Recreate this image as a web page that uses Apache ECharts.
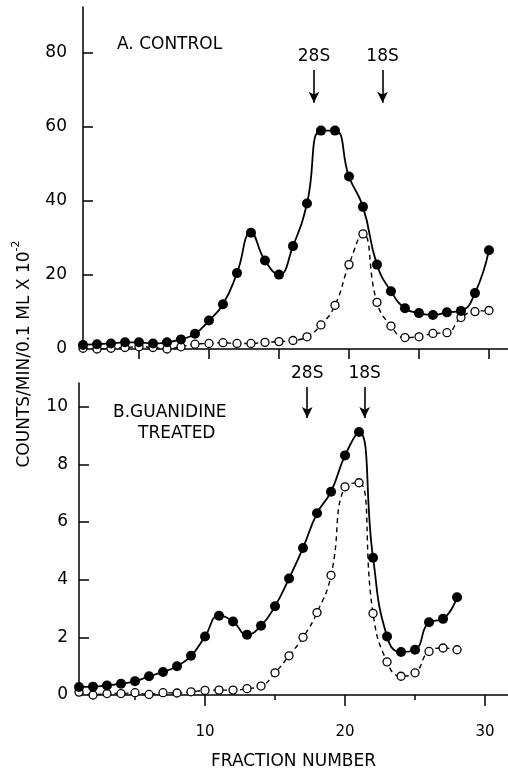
<!DOCTYPE html>
<html><head><meta charset="utf-8">
<script src="https://cdn.jsdelivr.net/npm/echarts@6/dist/echarts.min.js"></script>
<style>html,body{margin:0;padding:0;background:#fff}#c{width:508px;height:771px}</style>
</head><body><div id="c"></div>
<script>
// Panel A: control
const fractionsA = [1,2,3,4,5,6,7,8,9,10,11,12,13,14,15,16,17,18,19,20,21,22,23,24,25,26,27,28,29,30];
const controlFilled = [1.1,1.3,1.5,1.8,1.8,1.5,1.8,2.6,4.1,7.7,12.1,20.5,31.4,23.9,20.1,27.8,39.3,59.0,59.0,46.6,38.4,22.8,15.6,11.0,9.7,9.2,9.9,10.3,15.1,26.7];
const controlOpen = [0.2,0.0,0.2,0.4,0.6,0.4,0.0,0.6,1.3,1.5,1.7,1.5,1.5,1.8,2.0,2.3,3.3,6.5,11.8,22.8,31.1,12.6,6.2,3.1,3.3,4.2,4.4,8.5,10.1,10.4];
// Panel B: guanidine treated
const fractionsB = [1,2,3,4,5,6,7,8,9,10,11,12,13,14,15,16,17,18,19,20,21,22,23,24,25,26,27,28];
const guanFilled = [0.28,0.29,0.33,0.39,0.48,0.65,0.80,1.0,1.36,2.03,2.75,2.55,2.09,2.40,3.08,4.04,5.10,6.30,7.05,8.31,9.12,4.76,2.03,1.49,1.57,2.52,2.64,3.39];
const guanOpen = [0.10,0.0,0.05,0.05,0.08,0.02,0.08,0.07,0.11,0.16,0.17,0.17,0.22,0.31,0.77,1.36,2.0,2.86,4.15,7.22,7.36,2.83,1.15,0.65,0.77,1.51,1.63,1.57];
// Ticks
const yLabelsA = [0,20,40,60,80];
const yTicksA = [20,40,60,80];
const yLabelsB = [0,2,4,6,8,10];
const yTicksB = [2,4,6,8,10];
const xTicksA = [5,10,15,20,25,30];
const xLabelsB = [10,20,30];
const xMinorB = [5,15,25];
// Sedimentation markers (fraction positions)
const markersA = [{name:'28S', x:17.5}, {name:'18S', x:22.4}];
const markersB = [{name:'28S', x:17.3}, {name:'18S', x:21.4}];

const FONT = 'DejaVu Sans';
const pairs = (xs, ys) => xs.map((x, i) => [x, ys[i]]);

function filledSeries(xi, yi, data, marks, yTop, yBot) {
  return {
    type: 'line', xAxisIndex: xi, yAxisIndex: yi, data: data,
    smooth: 0.5, symbol: 'circle', symbolSize: 10, z: 3,
    itemStyle: {color: '#000'},
    lineStyle: {color: '#000', width: 1.8},
    markLine: {
      silent: true, animation: false,
      symbol: ['none', 'arrow'], symbolSize: [8, 11],
      lineStyle: {color: '#000', width: 1.6, type: 'solid'},
      label: {show: true, position: 'start', distance: 5, formatter: p => p.name,
              color: '#000', fontFamily: FONT, fontSize: 17},
      data: marks.map(m => [{name: m.name, coord: [m.x, yTop]}, {coord: [m.x, yBot]}])
    }
  };
}
function openSeries(xi, yi, data) {
  return {
    type: 'line', xAxisIndex: xi, yAxisIndex: yi, data: data,
    smooth: 0.5, symbol: 'circle', symbolSize: 8, z: 2,
    itemStyle: {color: '#fff', borderColor: '#000', borderWidth: 1.3},
    lineStyle: {color: '#000', width: 1.4, type: [5, 4]}
  };
}
const axisLine = {show: true, lineStyle: {color: '#000', width: 1.5}};

const chart = echarts.init(document.getElementById('c'), null, {renderer: 'canvas'});
chart.setOption({
  animation: false,
  backgroundColor: '#fff',
  grid: [
    {left: 83, right: 0, top: 7, bottom: 422},
    {left: 79, right: 0, top: 383, bottom: 72}
  ],
  xAxis: [
    {gridIndex: 0, type: 'value', position: 'bottom', offset: 0, min: 1, max: 31.36, axisLine: axisLine,
     axisTick: {show: true, customValues: xTicksA, length: 10, lineStyle: {color: '#000', width: 1.5}},
     axisLabel: {show: false}, splitLine: {show: false}},
    {gridIndex: 1, type: 'value', position: 'bottom', offset: 0, min: 1, max: 31.64, axisLine: axisLine,
     axisTick: {show: true, customValues: xLabelsB, length: 11, lineStyle: {color: '#000', width: 1.5}},
     axisLabel: {show: true, customValues: xLabelsB, margin: 30, color: '#000', fontFamily: FONT, fontSize: 15},
     splitLine: {show: false},
     name: 'FRACTION NUMBER', nameLocation: 'middle', nameGap: 58,
     nameTextStyle: {color: '#000', fontFamily: FONT, fontSize: 17}},
    {gridIndex: 1, type: 'value', position: 'bottom', offset: 0, min: 1, max: 31.64, axisLine: {show: false},
     axisTick: {show: true, customValues: xMinorB, length: 5, lineStyle: {color: '#000', width: 1.5}},
     axisLabel: {show: false}, splitLine: {show: false}}
  ],
  yAxis: [
    {gridIndex: 0, type: 'value', min: 0, max: 92.4, axisLine: axisLine,
     axisTick: {show: true, inside: true, customValues: yTicksA, length: 10, lineStyle: {color: '#000', width: 1.5}},
     axisLabel: {show: true, customValues: yLabelsA, margin: 16, color: '#000', fontFamily: FONT, fontSize: 17},
     splitLine: {show: false}},
    {gridIndex: 1, type: 'value', min: 0, max: 10.82, axisLine: axisLine,
     axisTick: {show: true, inside: true, customValues: yTicksB, length: 10, lineStyle: {color: '#000', width: 1.5}},
     axisLabel: {show: true, customValues: yLabelsB, margin: 11, color: '#000', fontFamily: FONT, fontSize: 17},
     splitLine: {show: false}}
  ],
  series: [
    openSeries(0, 0, pairs(fractionsA, controlOpen)),
    filledSeries(0, 0, pairs(fractionsA, controlFilled), markersA, 75.4, 66.5),
    openSeries(1, 1, pairs(fractionsB, guanOpen)),
    filledSeries(1, 1, pairs(fractionsB, guanFilled), markersB, 10.68, 9.61)
  ],
  graphic: [
    {type: 'text', left: 117, top: 36, style: {text: 'A. CONTROL', fill: '#000', fontFamily: FONT, fontSize: 17}},
    {type: 'text', left: 113, top: 404, style: {text: 'B.GUANIDINE', fill: '#000', fontFamily: FONT, fontSize: 17}},
    {type: 'text', left: 138, top: 425, style: {text: 'TREATED', fill: '#000', fontFamily: FONT, fontSize: 17}},
    {type: 'text', x: 22, y: 354, rotation: Math.PI / 2,
     style: {text: '{a|COUNTS/MIN/0.1 ML X 10}{s|-2}', align: 'center', verticalAlign: 'middle', fill: '#000',
             rich: {a: {fontFamily: FONT, fontSize: 17, lineHeight: 22, verticalAlign: 'bottom'},
                    s: {fontFamily: FONT, fontSize: 11, lineHeight: 22, verticalAlign: 'top'}}}}
  ]
});
</script></body></html>
